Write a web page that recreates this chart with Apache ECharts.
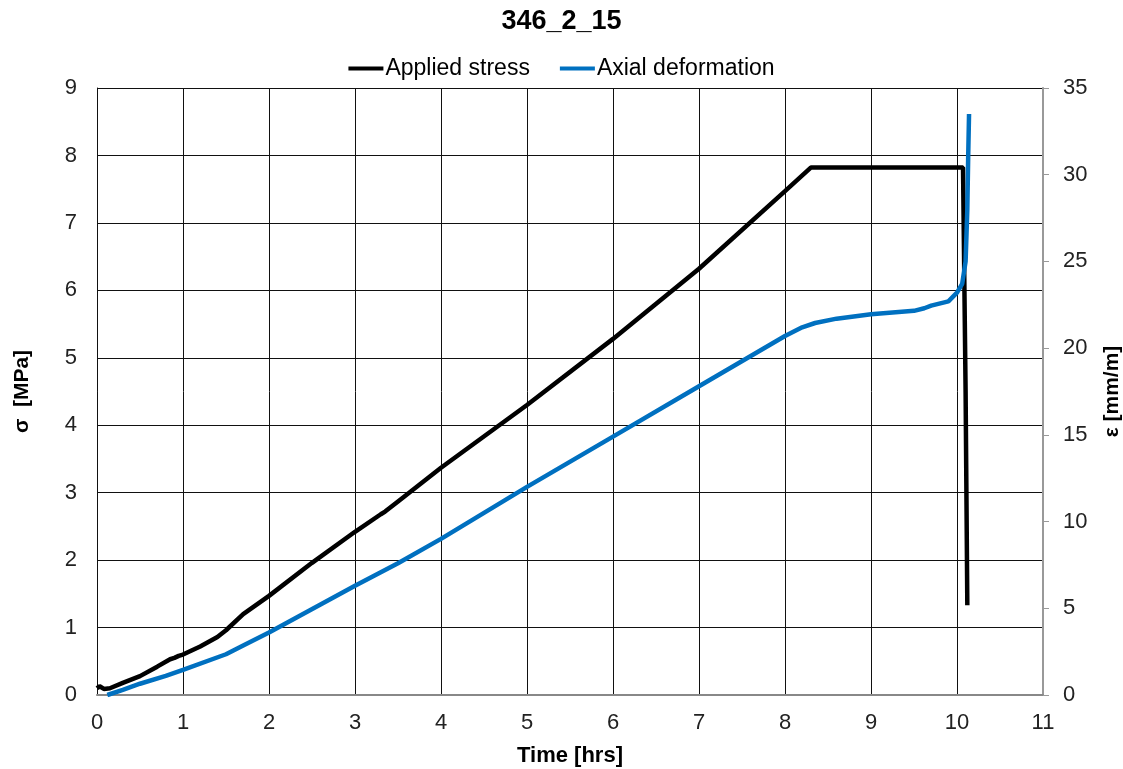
<!DOCTYPE html>
<html><head><meta charset="utf-8">
<script src="https://cdn.jsdelivr.net/npm/echarts@6/dist/echarts.min.js"></script>
<style>html,body{margin:0;padding:0;background:#fff}#c{width:1123px;height:769px}</style>
</head><body><div id="c"></div>
<script>
const chartTitle = '346_2_15';
const seriesNames = ['Applied stress', 'Axial deformation'];
const stressTime = [0, 0.03, 0.08, 0.15, 0.3, 0.5, 0.7, 0.85, 0.9, 0.95, 1.0, 1.2, 1.4, 1.5, 1.7, 2.0, 2.5, 3.0, 3.3, 3.35, 3.5, 4, 5, 6, 7, 8, 8.3, 9, 10.07, 10.1, 10.12];
const stressValues = [0.1, 0.13, 0.09, 0.1, 0.18, 0.28, 0.42, 0.53, 0.55, 0.58, 0.6, 0.72, 0.86, 0.96, 1.2, 1.47, 1.96, 2.42, 2.68, 2.72, 2.87, 3.37, 4.3, 5.28, 6.32, 7.47, 7.82, 7.82, 7.82, 4.5, 1.33];
const deformTime = [0.12, 0.3, 0.5, 0.8, 1.0, 1.5, 1.7, 2.0, 3.0, 3.5, 4, 5, 6, 7, 8, 8.2, 8.35, 8.6, 9, 9.5, 9.62, 9.7, 9.9, 10.0, 10.06, 10.1, 10.12, 10.13, 10.14];
const deformValues = [0, 0.3, 0.65, 1.1, 1.45, 2.35, 2.85, 3.6, 6.3, 7.6, 9.0, 12.0, 14.9, 17.8, 20.7, 21.2, 21.45, 21.7, 21.95, 22.15, 22.3, 22.45, 22.7, 23.2, 23.7, 25, 28, 31, 33.5];

const font = 'Liberation Sans, Arial, sans-serif';
const chart = echarts.init(document.getElementById('c'));
chart.setOption({
  animation: false,
  backgroundColor: '#fff',
  title: {text: chartTitle, left: 'center', top: 3,
    textStyle: {fontFamily: font, fontSize: 27, fontWeight: 'bold', color: '#000'}},
  legend: {top: 52, left: 'center', itemWidth: 35, itemHeight: 4, itemGap: 30, icon: 'rect',
    textStyle: {fontFamily: font, fontSize: 23, color: '#000', padding: [0,0,0,-3]},
    data: seriesNames},
  grid: {left: 97, right: 80, top: 88, bottom: 74, outerBoundsMode: 'none', containLabel: false},
  xAxis: {type: 'value', min: 0, max: 11, interval: 1,
    name: 'Time [hrs]', nameLocation: 'middle', nameGap: 50,
    nameTextStyle: {fontFamily: font, fontSize: 22, fontWeight: 'bold', color: '#000'},
    axisLine: {show: true, lineStyle: {color: '#888', width: 2}},
    axisTick: {show: false},
    axisLabel: {fontFamily: font, fontSize: 22, color: '#222', margin: 17},
    splitLine: {show: true, lineStyle: {color: '#111', width: 1}}},
  yAxis: [
    {type: 'value', min: 0, max: 9, interval: 1,
      name: 'σ  [MPa]', nameLocation: 'middle', nameGap: 64,
      nameTextStyle: {fontFamily: font, fontSize: 21, fontWeight: 'bold', color: '#000'},
      axisLine: {show: true, lineStyle: {color: '#111', width: 1}},
      axisTick: {show: false},
      axisLabel: {fontFamily: font, fontSize: 22, color: '#222', margin: 20},
      splitLine: {show: true, lineStyle: {color: '#111', width: 1}}},
    {type: 'value', min: 0, max: 35, interval: 5, position: 'right',
      name: 'ε [mm/m]', nameLocation: 'middle', nameGap: 59,
      nameTextStyle: {fontFamily: font, fontSize: 21, fontWeight: 'bold', color: '#000'},
      axisLine: {show: true, lineStyle: {color: '#999', width: 2}},
      axisTick: {show: true, length: 6, lineStyle: {color: '#999'}},
      axisLabel: {fontFamily: font, fontSize: 22, color: '#222', margin: 20},
      splitLine: {show: false}}
  ],
  series: [
    {name: seriesNames[0], type: 'line', yAxisIndex: 0, showSymbol: false,
      lineStyle: {color: '#000', width: 4.5}, itemStyle: {color: '#000'},
      data: stressTime.map((t, i) => [t, stressValues[i]])},
    {name: seriesNames[1], type: 'line', yAxisIndex: 1, showSymbol: false,
      lineStyle: {color: '#0070C0', width: 4.5}, itemStyle: {color: '#0070C0'},
      data: deformTime.map((t, i) => [t, deformValues[i]])}
  ]
});
</script></body></html>
